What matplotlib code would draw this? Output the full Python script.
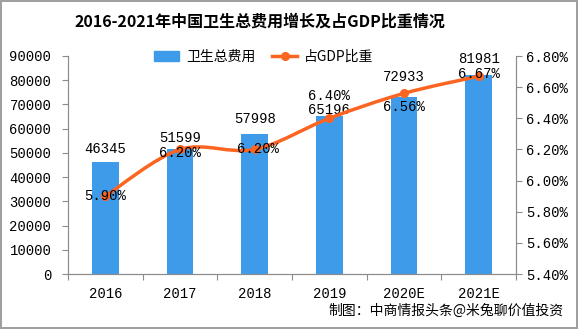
import matplotlib.pyplot as plt
from matplotlib.path import Path
from matplotlib.patches import PathPatch, Patch
from matplotlib.lines import Line2D
import numpy as np

plt.rcParams['font.family'] = ['Liberation Mono', 'Noto Sans CJK SC', 'DejaVu Sans']

years = ['2016', '2017', '2018', '2019', '2020E', '2021E']
spend = [46345, 51599, 57998, 65196, 72933, 81981]
share = [5.90, 6.20, 6.20, 6.40, 6.56, 6.67]

bar_color = '#3d9bea'
line_color = '#fc6421'
axis_color = '#8c8c8c'

fig = plt.figure(figsize=(5.78, 3.29), dpi=100)
fig.patch.set_edgecolor('#a0a0a0')
fig.patch.set_linewidth(1.5)
ax = fig.add_axes([68 / 578, 1 - 274 / 329, 448 / 578, 218 / 329])
ax2 = ax.twinx()

x = np.arange(len(years))
ax.bar(x, spend, width=0.36, color=bar_color, zorder=2)
ax.set_xlim(-0.5, 5.5)
ax.set_ylim(0, 90000)
ax.set_yticks(range(0, 90001, 10000))
ax2.set_ylim(5.4, 6.8)
ax2.set_yticks(np.arange(5.4, 6.81, 0.2))
ax2.set_yticklabels(['%.2f%%' % v for v in np.arange(5.4, 6.81, 0.2)])

# smooth line (Excel style bezier through the points)
pts = np.column_stack([x, share])
verts = [tuple(pts[0])]
codes = [Path.MOVETO]
for i in range(len(pts) - 1):
    p0 = pts[max(i - 1, 0)]
    p1 = pts[i]
    p2 = pts[i + 1]
    p3 = pts[min(i + 2, len(pts) - 1)]
    c1 = p1 + (p2 - p0) / 6
    c2 = p2 - (p3 - p1) / 6
    verts += [tuple(c1), tuple(c2), tuple(p2)]
    codes += [Path.CURVE4] * 3
ax2.add_patch(PathPatch(Path(verts, codes), fill=False, edgecolor=line_color,
                        lw=2.5, zorder=3, capstyle='round'))
ax2.plot(x, share, 'o', color=line_color, ms=5.5, zorder=4)

# labels
bar_off = [13, 11, 15, 6, 20, 16]
for xi, v, o in zip(x, spend, bar_off):
    ax.annotate(str(v), (xi, v), xytext=(0, o), textcoords='offset pixels',
                ha='center', va='center', fontsize=10, zorder=5)
pct_off = [(0, 0), (0, -4), (3, 0), (0, 22), (0, -14), (0, 2)]
for xi, v, o in zip(x, share, pct_off):
    ax2.annotate('%.2f%%' % v, (xi, v), xytext=o, textcoords='offset pixels',
                 ha='center', va='center', fontsize=10, zorder=5)

for a in (ax, ax2):
    a.spines['top'].set_visible(False)
    for s in a.spines.values():
        s.set_color(axis_color)
ax.tick_params(axis='y', direction='out', length=4, color=axis_color, labelsize=10, pad=8)
ax2.tick_params(axis='y', direction='out', length=4, color=axis_color, labelsize=10, pad=3)
ax.set_xticks(np.arange(-0.5, 6, 1))
ax.set_xticklabels([])
ax.set_xticks(x, minor=True)
ax.set_xticklabels(years, minor=True, fontsize=10)
ax.tick_params(axis='x', which='major', direction='out', length=4, color=axis_color)
ax.tick_params(axis='x', which='minor', length=0, pad=9)

handles = [Patch(color=bar_color),
           Line2D([], [], color=line_color, lw=2.5, marker='o', ms=5.5)]
ax.legend(handles, ['卫生总费用', '占GDP比重'], loc='center', bbox_to_anchor=(0.4375, 0.995),
          ncol=2, frameon=False, handlelength=1.8, columnspacing=1.2,
          handletextpad=0.5, prop={'family': ['Noto Sans CJK SC'], 'size': 10})

fig.text(260 / 578, 1 - 22 / 329, '2016-2021年中国卫生总费用增长及占GDP比重情况', ha='center', va='center',
         fontsize=11.5, fontweight='bold', family=['Noto Sans CJK SC'])
fig.text(328 / 578, 1 - 311 / 329, '制图：中商情报头条@米兔聊价值投资', ha='left', va='center',
         fontsize=10, family=['Noto Sans CJK SC'])

fig.savefig('out.png', dpi=100, edgecolor=fig.get_edgecolor())
